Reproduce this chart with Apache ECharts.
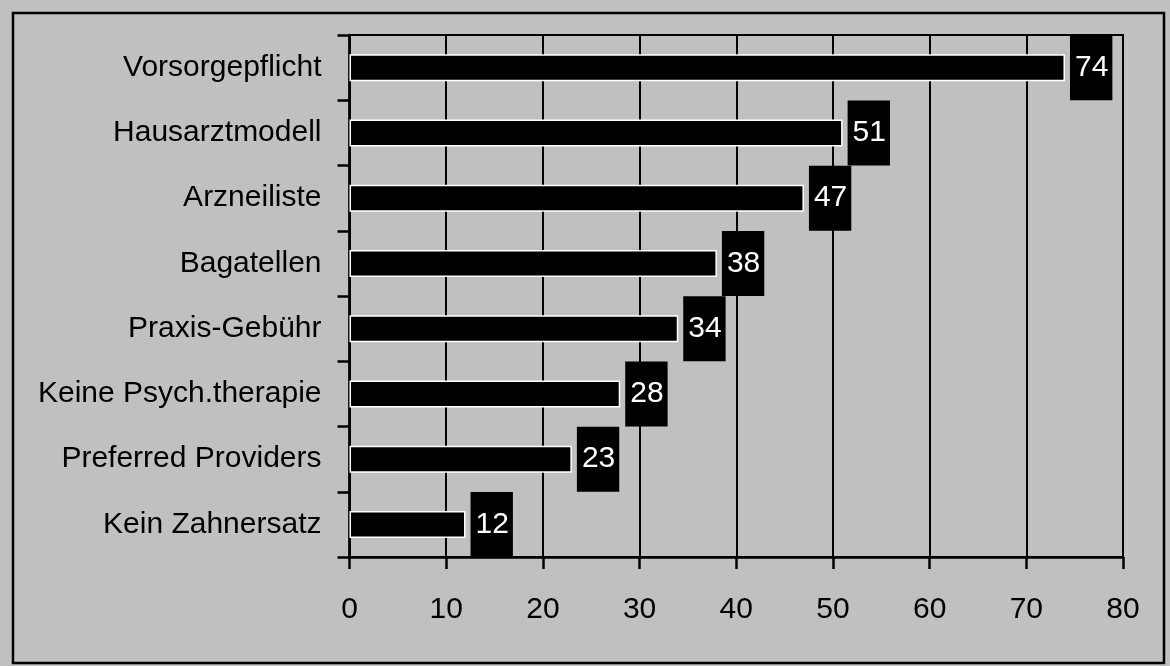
<!DOCTYPE html>
<html>
<head>
<meta charset="utf-8">
<script src="https://cdn.jsdelivr.net/npm/echarts@6/dist/echarts.min.js"></script>
<style>
html,body{margin:0;padding:0;background:#c0c0c0;}
#chart{width:1170px;height:666px;}
</style>
</head>
<body>
<div id="chart"></div>
<script>
const categories = ['Vorsorgepflicht','Hausarztmodell','Arzneiliste','Bagatellen','Praxis-Gebühr','Keine Psych.therapie','Preferred Providers','Kein Zahnersatz'];
const values = [74, 51, 47, 38, 34, 28, 23, 12];
const xTicks = [0, 80, 10];

const FONT = "'Liberation Sans Narrow', 'Arial Narrow', 'Liberation Sans', Arial, sans-serif";
const chart = echarts.init(document.getElementById('chart'));
chart.setOption({
  backgroundColor: '#c0c0c0',
  animation: false,
  graphic: [{
    type: 'rect',
    shape: { x: 13, y: 13, width: 1151, height: 650 },
    style: { fill: 'none', stroke: '#000', lineWidth: 2.5 },
    silent: true
  }],
  grid: { left: 349.5, right: 47, top: 35, bottom: 109, containLabel: false, outerBoundsMode: 'none', show: true, borderColor: '#000', borderWidth: 2, backgroundColor: 'transparent' },
  xAxis: {
    type: 'value', min: xTicks[0], max: xTicks[1], interval: xTicks[2],
    axisLine: { show: true, lineStyle: { color: '#000', width: 2.5 } },
    axisTick: { show: true, length: 12, lineStyle: { color: '#000', width: 2.5 } },
    splitLine: { show: true, lineStyle: { color: '#000', width: 2 } },
    axisLabel: { color: '#000', fontSize: 30, fontFamily: FONT, margin: 38 }
  },
  yAxis: {
    type: 'category', data: categories, inverse: true,
    axisLine: { show: true, lineStyle: { color: '#000', width: 2.5 } },
    axisTick: { show: true, length: 12, lineStyle: { color: '#000', width: 2.5 } },
    axisLabel: { color: '#000', fontSize: 30, fontFamily: FONT, margin: 28 }
  },
  series: [{
    type: 'bar', data: values, barWidth: 27,
    itemStyle: { color: '#000', borderColor: '#fff', borderWidth: 1.5 },
    label: {
      show: true, position: 'right', distance: 5,
      color: '#fff', backgroundColor: '#000', fontSize: 30, fontFamily: FONT,
      lineHeight: 30, padding: [18, 4, 17, 5]
    }
  }]
});
</script>
</body>
</html>
